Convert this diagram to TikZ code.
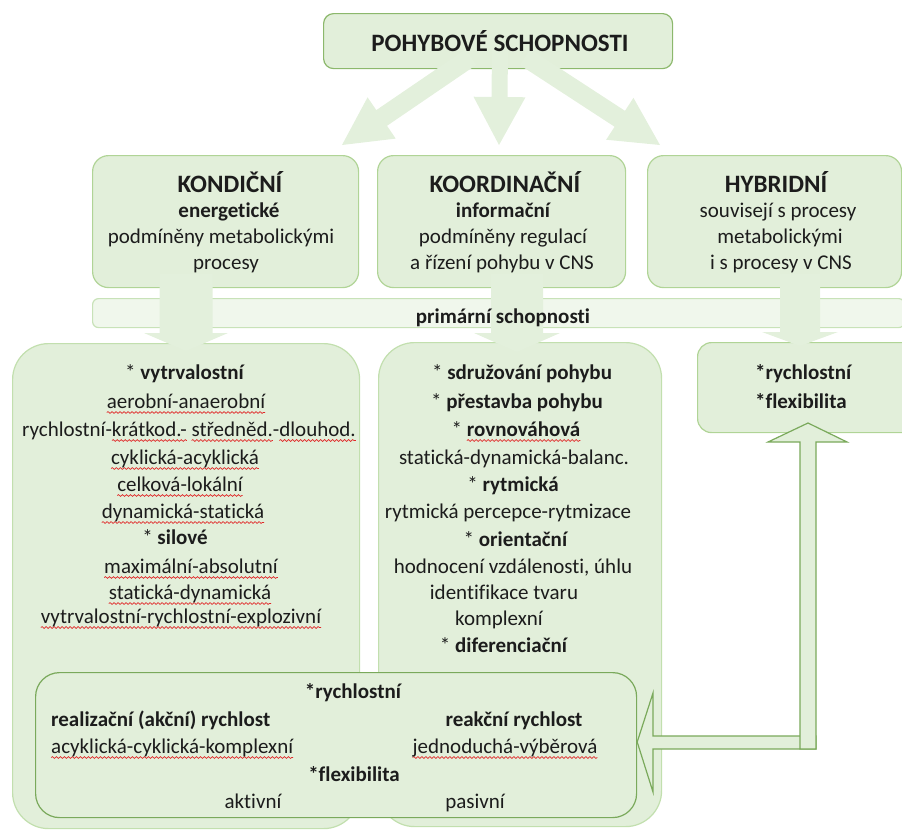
\documentclass[tikz,border=0pt]{standalone}
\usepackage{fontspec}
\setmainfont[Ligatures=NoCommon]{Carlito}
\usetikzlibrary{calc,decorations.pathmorphing}
\definecolor{boxfill}{HTML}{E2EFDA}
\definecolor{arrowfill}{HTML}{E3F0DC}
\definecolor{bandfill}{HTML}{F0F7EC}
\definecolor{topline}{HTML}{8CB86C}
\definecolor{midline}{HTML}{B0D496}
\definecolor{bigline}{HTML}{C2DFAE}
\definecolor{bandline}{HTML}{C8E2B8}
\definecolor{darkline}{HTML}{7AA95B}
\definecolor{ink}{HTML}{1C1C1C}
\definecolor{wavered}{HTML}{E02828}
\newsavebox\uwbox
\newcommand\uw[1]{\sbox\uwbox{#1}\leavevmode\rlap{\tikz[overlay,x=1pt,y=1pt]\draw[wavered,line width=0.7pt,decorate,decoration={snake,amplitude=0.9pt,segment length=4pt}] (0pt,-4.5pt) -- (\the\wd\uwbox,-4.5pt);}\usebox\uwbox}
% #1 style, #2 start, #3 tip, #4 half shaft, #5 half head, #6 head length
\newcommand\blockarrow[6][]{%
  \coordinate (babase) at ($(#3)!#6!(#2)$);
  \fill[#1] ($(#2)!#4!90:(#3)$) -- ($(babase)!#4!90:(#3)$) -- ($(babase)!#5!90:(#3)$)
    -- (#3) -- ($(babase)!#5!-90:(#3)$) -- ($(babase)!#4!-90:(#3)$) -- ($(#2)!#4!-90:(#3)$) -- cycle;
}
\begin{document}
\begin{tikzpicture}[x=1pt,y=-1pt,
  box/.style={draw, fill=boxfill, rounded corners=#1, anchor=north west, inner sep=0pt, line width=1.2pt},
  t/.style={anchor=base, inner sep=0pt, text=ink, font=\fontsize{21}{25}\selectfont},
  tb/.style={anchor=base, inner sep=0pt, text=ink, font=\fontsize{21}{25}\selectfont\bfseries},
  th/.style={anchor=base, inner sep=0pt, text=ink, font=\fontsize{25}{30}\selectfont\bfseries},
  hollow/.style={fill=boxfill, draw=darkline, line width=1.2pt, line join=miter}
]
\clip (0,0) rectangle (902,830);
% boxes
\node[box=10pt, draw=topline, minimum width=349pt, minimum height=55pt] (top) at (323,13) {};
\node[box=16pt, draw=midline, minimum width=266pt, minimum height=132pt] (kond) at (92,155) {};
\node[box=16pt, draw=midline, minimum width=248pt, minimum height=132pt] (koor) at (377,155) {};
\node[box=16pt, draw=midline, minimum width=254pt, minimum height=132pt] (hyb) at (647,155) {};
\node[box=6pt, draw=bandline, fill=bandfill, minimum width=812pt, minimum height=29pt] (band) at (92,298) {};
\node[box=36pt, draw=bigline, minimum width=347pt, minimum height=485pt] (left) at (12,343) {};
\node[box=36pt, draw=bigline, minimum width=283pt, minimum height=484pt] (mid) at (378,342) {};
\node[box=14pt, draw=midline, minimum width=220pt, minimum height=90pt] (right) at (697,342) {};
% top arrows
\coordinate (a1s) at (471,57); \coordinate (a1t) at (342,145);
\coordinate (a2s) at (500,50); \coordinate (a2t) at (499,145);
\coordinate (a3s) at (525,57); \coordinate (a3t) at (660,145);
\blockarrow[arrowfill]{a1s}{a1t}{9.5pt}{25pt}{48pt}
\blockarrow[arrowfill]{a2s}{a2t}{8pt}{26pt}{48pt}
\blockarrow[arrowfill]{a3s}{a3t}{9.5pt}{25pt}{48pt}
% down arrows
\coordinate (d1s) at (186,274); \coordinate (d1t) at (186,351);
\coordinate (d2s) at (517,274); \coordinate (d2t) at (517,352);
\coordinate (d3s) at (800,274); \coordinate (d3t) at (800,346);
\blockarrow[arrowfill]{d1s}{d1t}{26.5pt}{42pt}{18pt}
\blockarrow[arrowfill]{d2s}{d2t}{26pt}{43pt}{19pt}
\blockarrow[arrowfill]{d3s}{d3t}{20pt}{38pt}{14pt}
% bottom box
\node[box=24pt, draw=darkline, minimum width=601pt, minimum height=145pt] (bot) at (35,672) {};
% hollow arrows
\coordinate (h1) at (bot.east |- 0,742);
\draw[hollow] (h1) -- (653,693) -- (653,736) -- (816,736) -- (816,749) -- (653,749) -- (653,792) -- cycle;
\draw[hollow] (800,749) -- (800,442) -- (768,442) -- (808,423) -- (847,442) -- (816,442) -- (816,749) -- cycle;
% texts
\node[th] (ttop) at (500,51) {POHYBOVÉ SCHOPNOSTI};
\node[th] (k1) at (230,192) {KONDIČNÍ};
\node[tb] (k2) at (229,217) {energetické};
\node[t] (k3) at (221,243) {podmíněny metabolickými};
\node[t] (k4) at (226,269) {procesy};
\node[th] (o1) at (505,192) {KOORDINAČNÍ};
\node[tb] (o2) at (503,217) {informační};
\node[t] (o3) at (503,243) {podmíněny regulací};
\node[t] (o4) at (502,269) {a řízení pohybu v CNS};
\node[th] (y1) at (776,192) {HYBRIDNÍ};
\node[t] (y2) at (778,217) {souvisejí s procesy};
\node[t] (y3) at (780,243) {metabolickými};
\node[t] (y4) at (781,269) {i s procesy v CNS};
\node[tb] (bandt) at (503,323) {primární schopnosti};
% left box
\node[t] (l1) at (185,379) {* \textbf{vytrvalostní}};
\node[t] (l2) at (186,408) {\uw{aerobní-anaerobní}};
\node[t] (l3) at (189,436) {rychlostní-\uw{krátkod.-} \uw{středněd.}-\uw{dlouhod.}};
\node[t] (l4) at (185,464) {\uw{cyklická-acyklická}};
\node[t] (l5) at (180,491) {\uw{celková-lokální}};
\node[t] (l6) at (183,518) {\uw{dynamická-statická}};
\node[t] (l7) at (175,544) {* \textbf{silové}};
\node[t] (l8) at (191,573) {\uw{maximální-absolutní}};
\node[t] (l9) at (190,599) {\uw{statická-dynamická}};
\node[t] (l10) at (181,623) {\uw{vytrvalostní-rychlostní-explozivní}};
% middle box
\node[t] (m1) at (522,379) {* \textbf{sdružování pohybu}};
\node[t] (m2) at (517,408) {* \textbf{přestavba pohybu}};
\node[t] (m3) at (516,436) {* \textbf{\uw{rovnováhová}}};
\node[t] (m4) at (514,464) {statická-dynamická-balanc.};
\node[t] (m5) at (513,491) {* \textbf{rytmická}};
\node[t] (m6) at (508,518) {rytmická percepce-rytmizace};
\node[t] (m7) at (516,546) {* \textbf{orientační}};
\node[t] (m8) at (513,573) {hodnocení vzdálenosti, úhlu};
\node[t] (m9) at (504,599) {identifikace tvaru};
\node[t] (m10) at (499,625) {komplexní};
\node[t] (m11) at (504,652) {* \textbf{diferenciační}};
% right box
\node[tb, anchor=base west] (r1) at (755,379) {*rychlostní};
\node[tb, anchor=base west] (r2) at (755,408) {*flexibilita};
% bottom box
\node[tb] (b1) at (353,698) {*rychlostní};
\node[tb, anchor=base west] (b2) at (51,726) {realizační (akční) rychlost};
\node[tb] (b3) at (514,726) {reakční rychlost};
\node[t, anchor=base west] (b4) at (51,753) {\uw{acyklická-cyklická-komplexní}};
\node[t] (b5) at (505,753) {\uw{jednoduchá-výběrová}};
\node[tb] (b6) at (354,781) {*flexibilita};
\node[t] (b7) at (253,808) {aktivní};
\node[t] (b8) at (475,808) {pasivní};
\end{tikzpicture}
\end{document}
